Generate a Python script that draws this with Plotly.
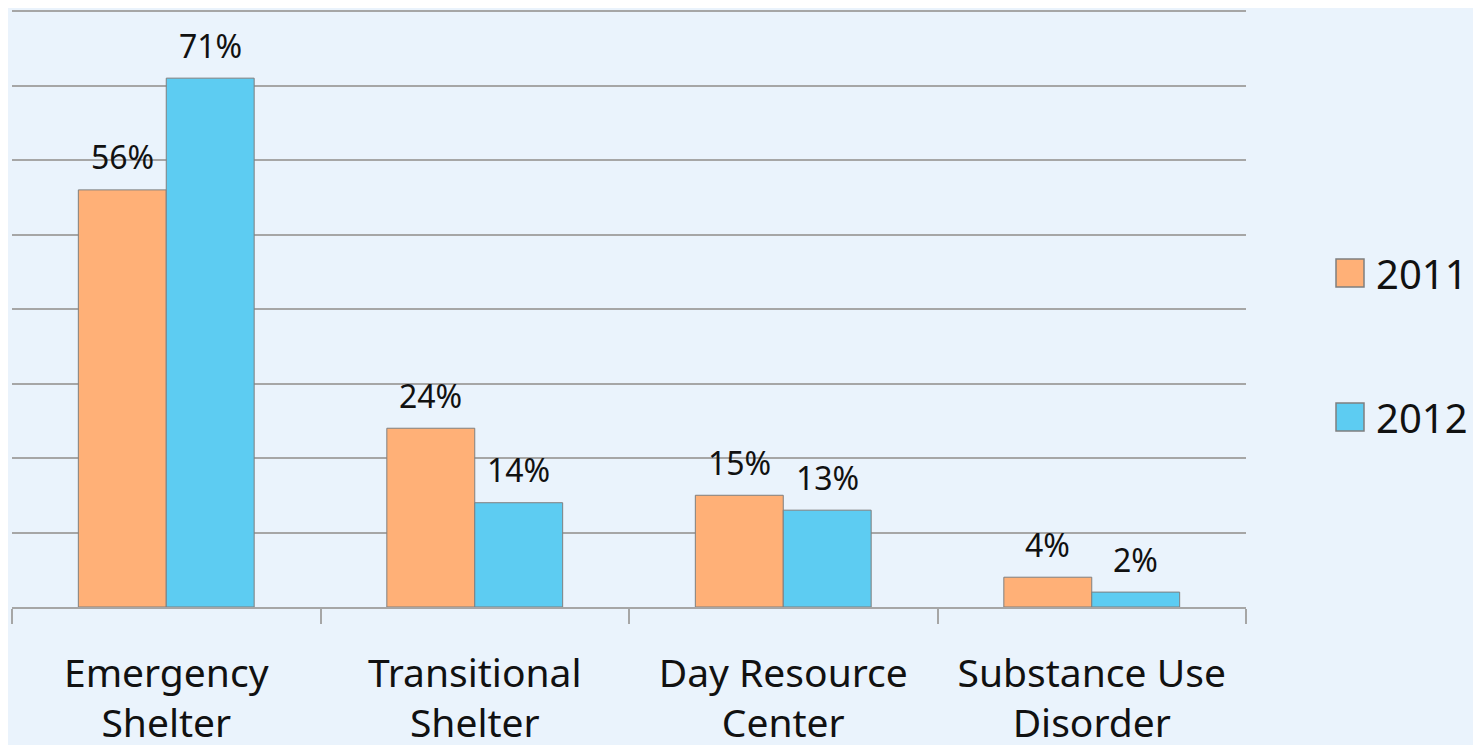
import plotly.graph_objects as go

categories = ["Emergency<br>Shelter", "Transitional<br>Shelter", "Day Resource<br>Center", "Substance Use<br>Disorder"]
years = ["2011", "2012"]
values_2011 = [56, 24, 15, 4]
values_2012 = [71, 14, 13, 2]
colors = ["#FFB077", "#5DCCF2"]

# the page puts the figure 8px in from the top-left corner
PAGE = 8
W, H = 1481 - PAGE, 745 - PAGE
X0, X1, Y0, Y1 = 12, 1246, 10, 607   # plot area on screen
L, T = X0 - PAGE, Y0 - PAGE
R, B = W + PAGE - X1, H + PAGE - Y1
FONT = "Noto Sans"


def px_x(x):
    return (x - X0) / (X1 - X0)


def px_y(y):
    return (Y1 - y) / (Y1 - Y0)


fig = go.Figure()
series = [values_2011, values_2012]
for name, vals, col in zip(years, series, colors):
    fig.add_trace(go.Bar(
        x=categories, y=vals, name=name,
        marker=dict(color=col, line=dict(color="#7F7F7F", width=1)),
        showlegend=False,
    ))

# value labels above bars
offsets = [-44, 44]
for vals, dx in zip(series, offsets):
    for cat, v in zip(categories, vals):
        fig.add_annotation(
            x=cat, y=v, text=f"{v}%", showarrow=False,
            xshift=dx, yshift=33, yanchor="middle",
            font=dict(family=FONT, size=32, color="#111111"),
        )

# legend drawn by hand so the swatches can be large
legend_rows = [(259, 287), (403, 431)]
for name, col, (y0, y1) in zip(years, colors, legend_rows):
    fig.add_shape(
        type="rect", xref="paper", yref="paper",
        x0=px_x(1336), x1=px_x(1364), y0=px_y(y1), y1=px_y(y0),
        fillcolor=col, line=dict(color="#7F7F7F", width=1.5),
    )
    fig.add_annotation(
        xref="paper", yref="paper", x=px_x(1374), y=px_y((y0 + y1) / 2),
        text=name, showarrow=False, xanchor="left", yanchor="middle",
        font=dict(family=FONT, size=40, color="#111111"),
    )

fig.update_layout(
    width=W, height=H,
    margin=dict(l=L, r=R, t=T, b=B),
    paper_bgcolor="#EAF3FC", plot_bgcolor="#EAF3FC",
    barmode="group", bargap=0.43, bargroupgap=0,
    showlegend=False,
    font=dict(family=FONT, color="#111111"),
)
fig.update_xaxes(
    showline=True, linecolor="#A6A6A6", linewidth=1.5,
    ticks="outside", tickson="boundaries", ticklen=15, tickcolor="#A6A6A6", tickwidth=1.5,
    tickfont=dict(family=FONT, size=39, color="#111111"),
    ticklabelstandoff=31, showgrid=False, automargin=False,
)
fig.update_yaxes(
    range=[0, 80.15], dtick=10, showticklabels=False,
    showgrid=True, gridcolor="#A6A6A6", gridwidth=1.5,
    zeroline=False, showline=False, automargin=False,
)

fig.write_html("out.html")
